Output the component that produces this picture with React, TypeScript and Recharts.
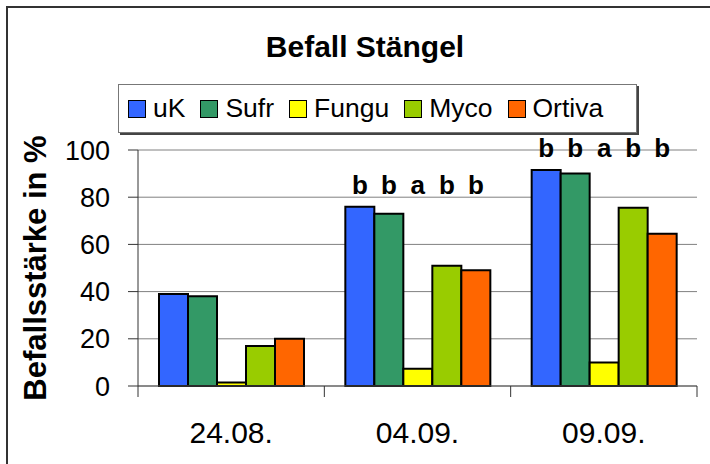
import React from 'react';
import { BarChart, Bar, XAxis, YAxis, CartesianGrid, LabelList } from 'recharts';

const categories = ['24.08.', '04.09.', '09.09.'];
const seriesNames = ['uK', 'Sufr', 'Fungu', 'Myco', 'Ortiva'];
const uK = [39, 76, 91.5];
const sufr = [38, 73, 90];
const fungu = [1.5, 7.3, 10];
const myco = [17, 51, 75.5];
const ortiva = [20, 49, 64.5];
const sigUK = ['', 'b', 'b'];
const sigSufr = ['', 'b', 'b'];
const sigFungu = ['', 'a', 'a'];
const sigMyco = ['', 'b', 'b'];
const sigOrtiva = ['', 'b', 'b'];
const yTicks = [0, 20, 40, 60, 80, 100];
const title = 'Befall Stängel';
const yTitle = 'Befallsstärke in %';

const colors = ['#3366FF', '#339966', '#FFFF00', '#99CC00', '#FF6600'];
const values = [uK, sufr, fungu, myco, ortiva];
const sigs = [sigUK, sigSufr, sigFungu, sigMyco, sigOrtiva];

const data = categories.map((c, i) => {
  const row: any = { cat: c };
  seriesNames.forEach((s, k) => {
    row[s] = values[k][i];
    row[s + '_sig'] = sigs[k][i];
  });
  return row;
});

const FONT = '"Liberation Sans", Arial, sans-serif';
const W = 710;
const H = 464;
const M = { top: 150, right: 13, bottom: 0, left: 78 };
const Y_W = 60;
const X_H = 78;
const PLOT_W = W - M.left - Y_W - M.right;
const BAND = PLOT_W / categories.length;

const XTick = (props: any) => {
  const { x, y, payload, index } = props;
  const last = index === categories.length - 1;
  return (
    <g>
      <line x1={x - BAND / 2} x2={x - BAND / 2} y1={y} y2={y + 11} stroke="#333" strokeWidth={1} />
      {last && <line x1={x + BAND / 2} x2={x + BAND / 2} y1={y} y2={y + 11} stroke="#333" strokeWidth={1} />}
      <text x={x} y={y + 57} textAnchor="middle" fontFamily={FONT} fontSize={30} fill="#000">
        {payload.value}
      </text>
    </g>
  );
};

const makeSigLabel = (k: number) => (props: any) => {
  const { x, y, width, height, value, index } = props;
  if (!value) return null;
  const v = values[k][index];
  const base = Number(y) + Number(height);
  const perUnit = Number(height) / v;
  const gmax = Math.max(...values.map((arr) => arr[index]));
  const yy = base - gmax * perUnit - 13;
  return (
    <text x={Number(x) + Number(width) / 2} y={yy} textAnchor="middle" fontFamily={FONT} fontWeight="bold" fontSize={26} fill="#000">
      {value}
    </text>
  );
};

export default function App() {
  return (
    <div style={{ position: 'absolute', left: 0, top: 0, width: W, height: H, overflow: 'hidden', background: '#fff', fontFamily: FONT }}>
      <div style={{ position: 'absolute', left: 6, top: 6, width: W + 20, height: H + 20, borderTop: '2px solid #333', borderLeft: '2px solid #333' }} />
      <div style={{ position: 'absolute', left: 0, top: 32, width: 730, textAlign: 'center', fontSize: 30, lineHeight: '30px', fontWeight: 'bold', color: '#000' }}>
        {title}
      </div>
      <BarChart width={W} height={H} data={data} margin={M} barCategoryGap={21} barGap={0}>
        <CartesianGrid yAxisId="left" horizontal vertical={false} stroke="#808080" strokeWidth={1} />
        <XAxis dataKey="cat" height={X_H} tickLine={false} tickSize={0} tickMargin={0} axisLine={{ stroke: '#555', strokeWidth: 1 }} tick={<XTick />} interval={0} />
        <YAxis
          yAxisId="left"
          width={Y_W}
          domain={[0, 100]}
          ticks={yTicks}
          tickSize={10}
          tickMargin={18}
          axisLine={{ stroke: '#333', strokeWidth: 1 }}
          tickLine={{ stroke: '#333', strokeWidth: 1 }}
          tick={{ fontFamily: FONT, fontSize: 27, fill: '#000' }}
          label={{
            content: () => (
              <text x={46} y={268} transform="rotate(-90 46 268)" textAnchor="middle" fontFamily={FONT} fontWeight="bold" fontSize={31} fill="#000">
                {yTitle}
              </text>
            ),
          }}
        />
        <YAxis yAxisId="right" orientation="right" width={0} domain={[0, 100]} tick={false} tickLine={false} axisLine={{ stroke: '#808080', strokeWidth: 1 }} />
        {seriesNames.map((s, k) => (
          <Bar key={s} yAxisId="left" dataKey={s} fill={colors[k]} stroke="#000" strokeWidth={2} isAnimationActive={false}>
            <LabelList dataKey={s + '_sig'} content={makeSigLabel(k)} />
          </Bar>
        ))}
      </BarChart>
      <div
        style={{
          position: 'absolute',
          left: 118,
          top: 84,
          width: 508,
          height: 47,
          border: '1px solid #777',
          boxShadow: '2px 2px 0 #444',
          display: 'flex',
          alignItems: 'center',
          paddingLeft: 9,
          boxSizing: 'content-box',
        }}
      >
        {seriesNames.map((s, k) => (
          <div key={s} style={{ display: 'flex', alignItems: 'center', marginRight: 15 }}>
            <div style={{ width: 16, height: 16, background: colors[k], border: '1.5px solid #000', marginRight: 7 }} />
            <span style={{ fontSize: 26.5, color: '#000', whiteSpace: 'nowrap' }}>{s}</span>
          </div>
        ))}
      </div>
    </div>
  );
}
